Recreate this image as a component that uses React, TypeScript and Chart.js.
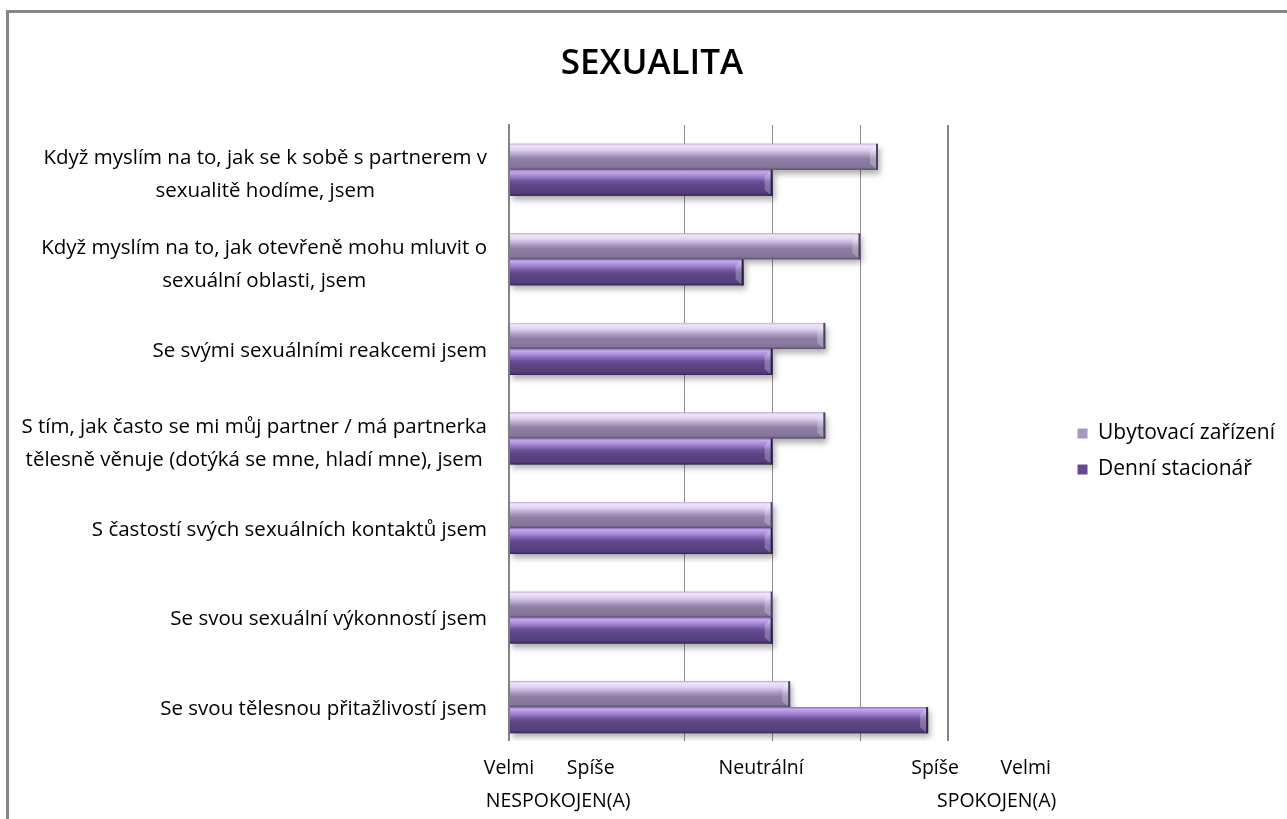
import React, { useEffect, useRef } from 'react';
import { Chart, registerables } from 'chart.js';

Chart.register(...registerables);

const FONT = '"Open Sans", "DejaVu Sans", sans-serif';

const categories: string[][] = [
  ['Když myslím na to, jak se k sobě s partnerem v', 'sexualitě hodíme, jsem'],
  ['Když myslím na to, jak otevřeně mohu mluvit o', 'sexuální oblasti, jsem'],
  ['Se svými sexuálními reakcemi jsem'],
  ['S tím, jak často se mi můj partner / má partnerka', 'tělesně věnuje (dotýká se mne, hladí mne), jsem'],
  ['S častostí svých sexuálních kontaktů jsem'],
  ['Se svou sexuální výkonností jsem'],
  ['Se svou tělesnou přitažlivostí jsem'],
];

const seriesNames = ['Ubytovací zařízení', 'Denní stacionář'];
const ubytovaciValues = [4.2, 4.0, 3.6, 3.6, 3.0, 3.0, 3.2];
const denniValues = [3.0, 2.67, 3.0, 3.0, 3.0, 3.0, 4.77];

const scaleWordsTop = ['Velmi', 'Spíše', 'Neutrální', 'Spíše', 'Velmi'];
const scaleWordsTopAt = [0, 0.93, 2.87, 4.85, 5.88];
const scaleWordsBottom = ['NESPOKOJEN(A)', 'SPOKOJEN(A)'];
const scaleWordsBottomAt = [0.56, 5.55];

const majorGrid = [0, 5];
const minorGrid = [2, 3, 4];

const gradients = [
  [
    [0, '#C7B4E0'], [0.08, '#F1E6FB'], [0.25, '#DCCDEC'], [0.45, '#A999BE'],
    [0.6, '#8E7EA3'], [0.9, '#85759A'], [1, '#5C4E6C'],
  ],
  [
    [0, '#9579C2'], [0.08, '#C6A8EE'], [0.25, '#A182D1'], [0.45, '#6E519B'],
    [0.6, '#5D4585'], [0.9, '#553E7B'], [1, '#372853'],
  ],
];
const edgeColors = ['#4E4260', '#2E2145'];

const barStylePlugin = {
  id: 'barStyle',
  afterDatasetsDraw(chart: any) {
    const ctx = chart.ctx;
    chart.data.datasets.forEach((_: any, di: number) => {
      const meta = chart.getDatasetMeta(di);
      meta.data.forEach((el: any) => {
        const p = el.getProps(['x', 'y', 'base', 'height'], true);
        const left = Math.min(p.base, p.x);
        const right = Math.max(p.base, p.x);
        const top = p.y - p.height / 2;
        const bottom = p.y + p.height / 2;
        const g = ctx.createLinearGradient(0, top, 0, bottom);
        (gradients[di] as any[]).forEach(([o, c]) => g.addColorStop(o, c));
        ctx.save();
        ctx.shadowColor = 'rgba(0,0,0,0.32)';
        ctx.shadowBlur = 6;
        ctx.shadowOffsetX = 2;
        ctx.shadowOffsetY = 4;
        ctx.fillStyle = g;
        ctx.fillRect(left, top, right - left, bottom - top);
        ctx.restore();
        ctx.save();
        ctx.strokeStyle = edgeColors[di];
        ctx.lineWidth = 2;
        ctx.beginPath();
        ctx.moveTo(right - 1, top);
        ctx.lineTo(right - 1, bottom);
        ctx.stroke();
        ctx.fillStyle = 'rgba(255,255,255,0.25)';
        ctx.beginPath();
        ctx.moveTo(right - 2, top + 1);
        ctx.lineTo(right - 8, top + 7);
        ctx.lineTo(right - 8, bottom - 6);
        ctx.lineTo(right - 2, bottom - 1);
        ctx.closePath();
        ctx.fill();
        ctx.restore();
      });
    });
  },
};

const textPlugin = {
  id: 'texts',
  afterDraw(chart: any) {
    const ctx = chart.ctx;
    const area = chart.chartArea;
    const yScale = chart.scales.y;
    const xScale = chart.scales.x;
    ctx.save();
    ctx.fillStyle = '#000';
    ctx.font = `20.5px ${FONT}`;
    ctx.textBaseline = 'middle';
    ctx.textAlign = 'center';
    const right = area.left - 22;
    categories.forEach((lines, i) => {
      const yc = yScale.getPixelForTick(i) + (lines.length > 1 ? 5 : 2);
      const w = Math.max(...lines.map((l) => ctx.measureText(l).width));
      const cx = right - w / 2;
      lines.forEach((l, j) => {
        ctx.fillText(l, cx, yc + (j - (lines.length - 1) / 2) * 33);
      });
    });
    const x0 = xScale.getPixelForValue(0) - 30;
    const x1 = xScale.getPixelForValue(6.1);
    ctx.fillStyle = '#fff';
    ctx.fillRect(x0, area.bottom - 11, x1 - x0, 90);
    ctx.fillStyle = '#000';
    ctx.font = `19.5px ${FONT}`;
    scaleWordsTop.forEach((t, i) => {
      ctx.fillText(t, xScale.getPixelForValue(scaleWordsTopAt[i]), area.bottom + 16);
    });
    scaleWordsBottom.forEach((t, i) => {
      ctx.fillText(t, xScale.getPixelForValue(scaleWordsBottomAt[i]), area.bottom + 49);
    });
    ctx.restore();
  },
};

export default function App() {
  const ref = useRef<HTMLCanvasElement | null>(null);
  useEffect(() => {
    if (!ref.current) return;
    const chart = new Chart(ref.current, {
      type: 'bar',
      data: {
        labels: categories.map((c) => c.join(' ')),
        datasets: [
          {
            label: seriesNames[0],
            data: ubytovaciValues,
            backgroundColor: '#A898C0',
            borderColor: '#5C4E6C',
            borderWidth: 0,
          },
          {
            label: seriesNames[1],
            data: denniValues,
            backgroundColor: '#654B8E',
            borderColor: '#372853',
            borderWidth: 0,
          },
        ],
      },
      options: {
        indexAxis: 'y',
        responsive: false,
        animation: false,
        categoryPercentage: 0.58,
        barPercentage: 1.0,
        layout: { padding: { top: 0, left: 10, right: 18, bottom: 85 } },
        scales: {
          x: {
            type: 'linear',
            min: 0,
            max: 6.3,
            ticks: { display: false, stepSize: 1 },
            border: { display: false },
            grid: {
              drawTicks: false,
              color: (c: any) => {
                const v = c.tick ? c.tick.value : -1;
                if (majorGrid.includes(v)) return '#858585';
                if (minorGrid.includes(v)) return '#8E8E8E';
                return 'rgba(0,0,0,0)';
              },
              lineWidth: (c: any) => {
                const v = c.tick ? c.tick.value : -1;
                return majorGrid.includes(v) ? 2 : 1;
              },
            },
          },
          y: {
            type: 'category',
            ticks: { display: false },
            grid: { display: false, drawTicks: false },
            border: { display: true, color: '#858585', width: 2 },
            afterFit: (scale: any) => {
              scale.width = 490;
            },
          },
        },
        plugins: {
          title: {
            display: true,
            text: 'SEXUALITA',
            color: '#000',
            font: { family: FONT, size: 35, weight: '600' },
            padding: { top: 30, bottom: 40 },
          },
          legend: {
            display: true,
            position: 'right',
            title: {
              display: true,
              text: ' ',
              font: { size: 10 },
              padding: { top: 126, bottom: 0 },
            },
            labels: {
              color: '#000',
              boxWidth: 10,
              boxHeight: 10,
              padding: 15,
              font: { family: FONT, size: 21 },
            },
          },
          tooltip: { enabled: false },
        },
      },
      plugins: [barStylePlugin, textPlugin],
    } as any);
    return () => chart.destroy();
  }, []);

  return (
    <div style={{ position: 'fixed', left: 0, top: 0, width: 1287, height: 819, overflow: 'hidden', background: '#fff' }}>
      <div
        style={{
          position: 'absolute',
          left: 6,
          top: 10,
          width: 1300,
          height: 830,
          boxSizing: 'border-box',
          border: '3px solid #878787',
          background: '#fff',
        }}
      >
        <canvas ref={ref} width={1294} height={824} style={{ display: 'block' }} />
      </div>
    </div>
  );
}
